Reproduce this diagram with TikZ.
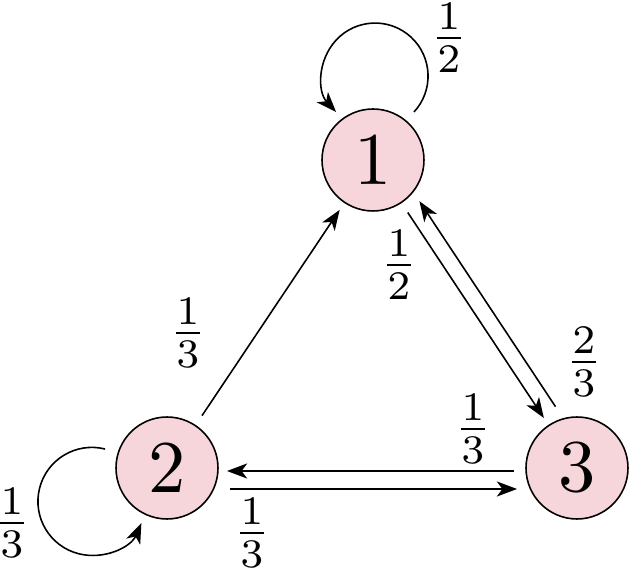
\documentclass[tikz,border=0pt]{standalone}
\usepackage{graphicx}
\usetikzlibrary{arrows.meta,calc}
\definecolor{nodepink}{RGB}{247,214,219}
\newcommand{\bignum}[1]{\scalebox{4.24}{#1}}
\newcommand{\bigfrac}[2]{\scalebox{3.3}{$\frac{#1}{#2}$}}
\begin{document}
\begin{tikzpicture}[x=0.02cm,y=-0.02cm,
  mnode/.style={circle,draw,line width=0.9pt,fill=nodepink,minimum size=2.04cm,
    inner sep=0pt,outer sep=0.18cm},
  arr/.style={-{Stealth[length=11.5pt,width=8.6pt,inset=3.2pt]},line width=0.9pt},
  arrs/.style={arr,shorten <=0.06cm},
  lab/.style={inner sep=0pt}]
\useasboundingbox (0,0) rectangle (629,573);
\node[mnode] (n1) at (373,160) {\bignum{1}};
\node[mnode] (n2) at (167,468) {\bignum{2}};
\node[mnode] (n3) at (577,468) {\bignum{3}};
% self loops
\draw[arr] ($(n1)+(41,-48)$) arc[start angle=42.7,end angle=-222.7,radius=53];
\draw[arr] ($(n2)+(-62,-19)$) arc[start angle=-76,end angle=-336.3,radius=54];
% edges
\draw[arrs] (n2) -- (n1);
\draw[arrs] (n1) -- (n3);
\draw[arrs,transform canvas={shift={(13.3,-8.8)}}] (n3) -- (n1);
\draw[arrs,transform canvas={shift={(0,3)}}] (n3) -- (n2);
\draw[arrs,transform canvas={shift={(0,21)}}] (n2) -- (n3);
% labels
\node[lab] (l11) at (449,38) {\bigfrac{1}{2}};
\node[lab] (l13) at (399,265) {\bigfrac{1}{2}};
\node[lab] (l21) at (188,333) {\bigfrac{1}{3}};
\node[lab] (l31) at (584,362) {\bigfrac{2}{3}};
\node[lab] (l32) at (473,429) {\bigfrac{1}{3}};
\node[lab] (l23) at (252,533) {\bigfrac{1}{3}};
\node[lab] (l22) at (12,523) {\bigfrac{1}{3}};
\end{tikzpicture}
\end{document}
